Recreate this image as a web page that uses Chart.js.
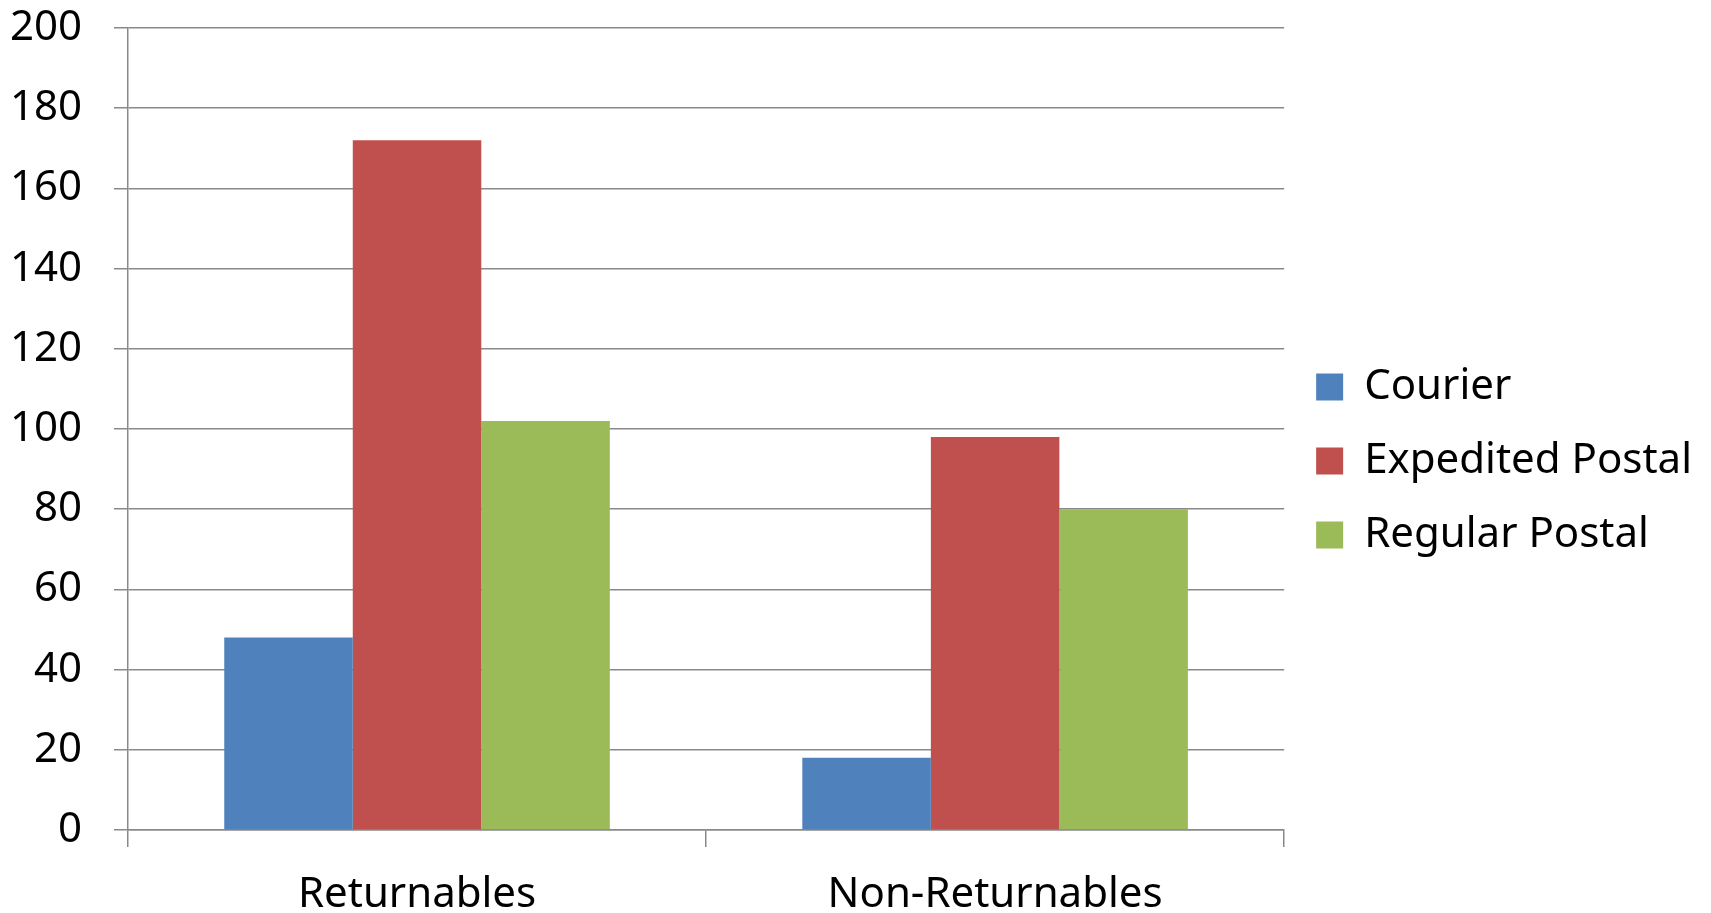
<!DOCTYPE html>
<html>
<head>
<meta charset="utf-8">
<script src="https://cdn.jsdelivr.net/npm/chart.js@4/dist/chart.umd.min.js"></script>
<style>
  html, body { margin: 0; padding: 0; background: #fff; }
  #wrap { width: 1711px; height: 913px; position: relative; }
</style>
</head>
<body>
<div id="wrap"><canvas id="chart"></canvas></div>
<script>
const categories = ['Returnables', 'Non-Returnables'];
const seriesNames = ['Courier', 'Expedited Postal', 'Regular Postal'];
const courier = [48, 18];
const expeditedPostal = [172, 98];
const regularPostal = [102, 80];
const yTicks = [0, 20, 40, 60, 80, 100, 120, 140, 160, 180, 200];

const colors = ['#4F81BD', '#C0504D', '#9BBB59'];
const gridColor = '#898989';
const font = { family: "'Noto Sans', sans-serif", size: 42 };

const ctx = document.getElementById('chart');

new Chart(ctx, {
  type: 'bar',
  data: {
    labels: categories,
    datasets: [courier, expeditedPostal, regularPostal].map((vals, i) => ({
      label: seriesNames[i],
      data: vals,
      backgroundColor: colors[i],
      borderWidth: 0,
      categoryPercentage: 0.667,
      barPercentage: 1.0
    }))
  },
  options: {
    responsive: true,
    maintainAspectRatio: false,
    animation: false,
    layout: { padding: { top: 9, left: 0, right: 9, bottom: 0 } },
    plugins: {
      tooltip: { enabled: false },
      legend: {
        position: 'right',
        labels: {
          color: '#000',
          font: font,
          boxWidth: 27,
          boxHeight: 27,
          padding: 32
        }
      }
    },
    scales: {
      x: {
        afterFit: (axis) => { axis.height = 83; },
        grid: {
          drawOnChartArea: false,
          drawTicks: true,
          tickLength: 17,
          color: gridColor,
          lineWidth: 1.5
        },
        border: { color: gridColor, width: 1.5 },
        ticks: { color: '#000', font: { ...font, lineHeight: 1.0 }, padding: 27 }
      },
      y: {
        min: 0,
        max: 200,
        afterFit: (axis) => {
          axis.width = 128;
          axis.paddingTop = 28;
          axis.paddingBottom = 0;
        },
        afterBuildTicks: (axis) => { axis.ticks = yTicks.map(v => ({ value: v })); },
        grid: {
          color: gridColor,
          lineWidth: 1.5,
          tickLength: 14
        },
        border: { color: gridColor, width: 1.5 },
        ticks: { color: '#000', font: font, padding: 32 }
      }
    }
  }
});
</script>
</body>
</html>
